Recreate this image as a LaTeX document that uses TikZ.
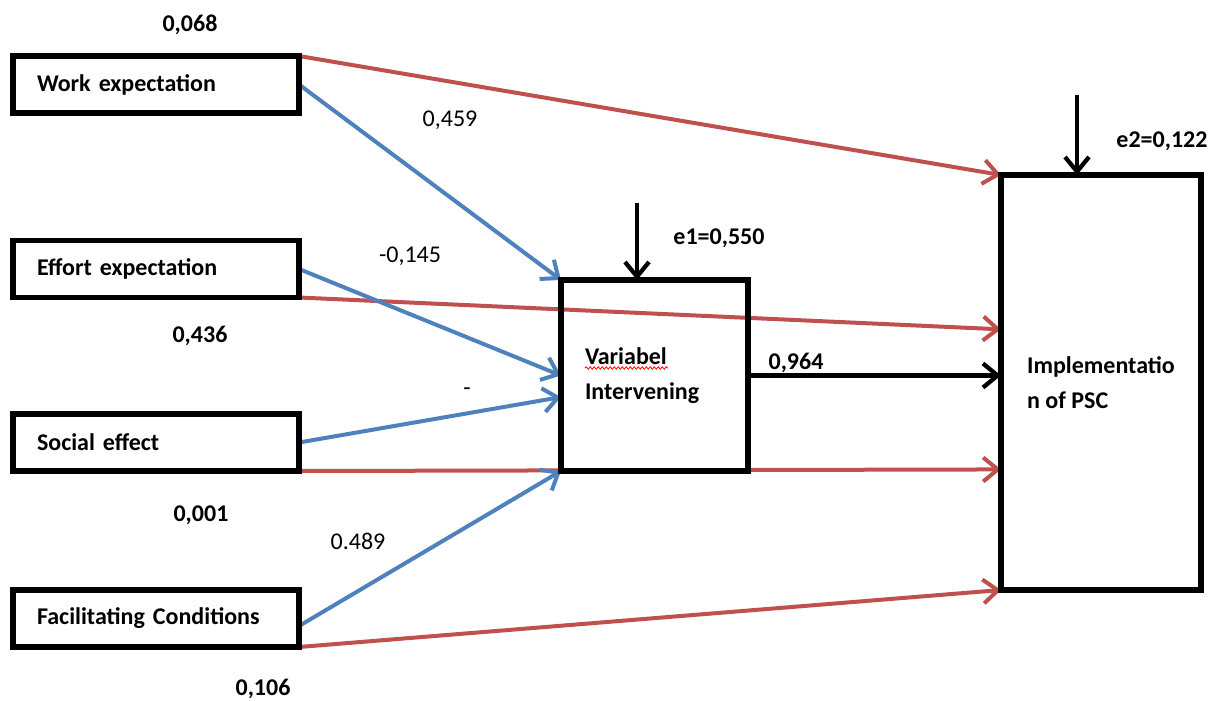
\documentclass[tikz,border=0pt]{standalone}
\usepackage{fontspec}
\setmainfont{Carlito}
\usetikzlibrary{arrows.meta,backgrounds,decorations.pathmorphing}

\definecolor{pathred}{RGB}{192,80,77}
\definecolor{pathblue}{RGB}{79,129,189}

\tikzset{every picture/.style={line width=0.75pt}}

\begin{document}
\begin{tikzpicture}[x=0.75pt,y=0.75pt,yscale=-1,xscale=1,
	varbox/.style={draw, line width=4pt, inner sep=0pt, outer sep=0pt, align=left, font=\fontsize{18}{26}\selectfont\bfseries},
	leftbox/.style={varbox, minimum width=214.5pt, minimum height=42.75pt, inner xsep=18pt, text width=178.5pt},
	redpath/.style={draw=pathred, line width=3pt, -{Straight Barb[length=11pt,width=18pt]}},
	bluepath/.style={redpath, draw=pathblue},
	blackpath/.style={redpath, draw=black, line width=3.2pt},
	numbold/.style={font=\fontsize{18}{21}\selectfont\bfseries},
	numplain/.style={font=\fontsize{18}{21}\selectfont}]
	\useasboundingbox (0,0) rectangle (1209,700);

	%Shape: Rectangle [exogenous variables]
	\node[leftbox] (work) at (156,84.5) {Work expectation};
	\node[leftbox] (effort) at (156,269) {Effort expectation};
	\node[leftbox] (social) at (156,442.5) {Social effect};
	\node[leftbox] (facil) at (156,618.5) {Facilitating Conditions};
	%Shape: Rectangle [intervening]
	\node[varbox, minimum width=140.25pt, minimum height=143.25pt, inner xsep=18pt, text width=104.25pt] (var) at (654.5,375.5) {Variabel\\Intervening};
	%Shape: Rectangle [outcome]
	\node[varbox, minimum width=150pt, minimum height=311.25pt] (impl) at (1101,382.5) {Implementatio\\n of PSC};
	%spelling mark under Variabel
	\draw[red, line width=0.6pt, decorate, decoration={snake, amplitude=0.9pt, segment length=3pt}] (585,368) -- (668,368);

	% error terms
	\coordinate (e1top) at (637,203);
	\coordinate (e2top) at (1077,95);

	\begin{scope}[on background layer]
	%Straight Lines [direct paths]
	\draw[redpath] (work.north east) -- (impl.north west);
	\draw[redpath] (effort.south east) -- (impl.152);
	\draw[redpath] (social.south east) -- (impl.221);
	\draw[redpath] (facil.south east) -- (impl.south west);
	%Straight Lines [paths to intervening]
	\draw[bluepath] (work.east) -- (var.north west);
	\draw[bluepath] (effort.east) -- (var.west);
	\draw[bluepath] (social.east) -- (var.193);
	\draw[bluepath] (facil.357) -- (var.south west);
	%Straight Lines
	\draw[blackpath] (var.east) -- (var.east -| impl.west);
	\draw[blackpath] (e1top) -- (e1top |- var.north);
	\draw[blackpath] (e2top) -- (e2top |- impl.north);
	\end{scope}

	% Text Node
	\node[numbold] (cwork) at (190,25) {0,068};
	% Text Node
	\node[numplain] (cworkvar) at (450,120) {0,459};
	% Text Node
	\node[numplain] (ceffortvar) at (410,256) {-0,145};
	% Text Node
	\node[numbold] (ceffort) at (200,336) {0,436};
	% Text Node
	\node[numplain] (csocialvar) at (467,392) {-};
	% Text Node
	\node[numbold] (csocial) at (201,515) {0,001};
	% Text Node
	\node[numplain] (cfacilvar) at (358,541) {0.489};
	% Text Node
	\node[numbold] (cfacil) at (263,689) {0,106};
	% Text Node
	\node[numbold] (ce1) at (719,238) {e1=0,550};
	% Text Node
	\node[numbold] (ce2) at (1162,141) {e2=0,122};
	% Text Node
	\node[numbold] (cvar) at (796,363) {0,964};

\end{tikzpicture}
\end{document}
